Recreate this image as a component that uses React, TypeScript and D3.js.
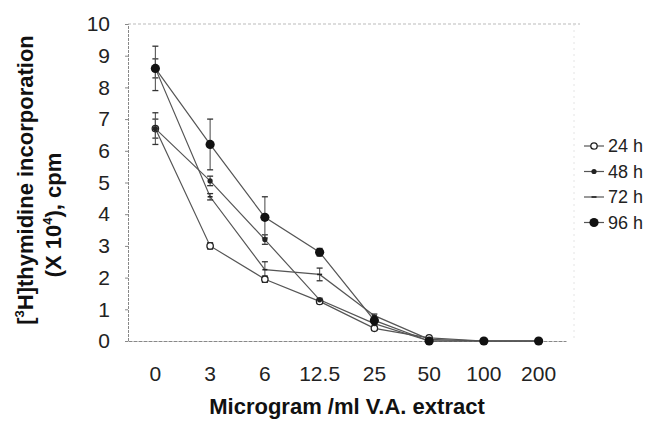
import React, { useEffect, useRef } from 'react'
import * as d3 from 'd3'

const categories = ['0', '3', '6', '12.5', '25', '50', '100', '200']
const seriesNames = ['24 h', '48 h', '72 h', '96 h']
const values24 = [6.7, 3.0, 1.95, 1.25, 0.4, 0.1, 0, 0]
const values48 = [6.7, 5.05, 3.2, 1.3, 0.55, 0, 0, 0]
const values72 = [8.6, 4.55, 2.25, 2.1, 0.8, 0.05, 0, 0]
const values96 = [8.6, 6.2, 3.9, 2.8, 0.65, 0, 0, 0]
const errors24 = [0.3, 0.1, 0.1, 0.05, 0.05, 0, 0, 0]
const errors48 = [0.5, 0.15, 0.15, 0.05, 0.05, 0, 0, 0]
const errors72 = [0.3, 0.1, 0.25, 0.2, 0.05, 0, 0, 0]
const errors96 = [0.7, 0.8, 0.65, 0.12, 0.05, 0, 0, 0]
const yTicks = [0, 1, 2, 3, 4, 5, 6, 7, 8, 9, 10]

const W = 646
const H = 426
const margin = { top: 24, right: 78, bottom: 85, left: 128 }

export default function App() {
  const svgRef = useRef<SVGSVGElement>(null)

  useEffect(() => {
    if (!svgRef.current) return
    const svg = d3.select(svgRef.current)
    svg.selectAll('*').remove()

    const innerW = W - margin.left - margin.right
    const innerH = H - margin.top - margin.bottom

    const x = d3.scaleBand().domain(categories).range([0, innerW - 2])
    const y = d3.scaleLinear().domain([0, 10]).range([innerH, 0])
    const cx = (c: string) => (x(c) || 0) + x.bandwidth() / 2

    const g = svg.append('g').attr('transform', `translate(${margin.left},${margin.top})`)
    const font = '"Liberation Sans", Arial, sans-serif'

    // frame (faint, dotted like the scan)
    g.append('line').attr('x1', 0).attr('x2', innerW + 12).attr('y1', 0).attr('y2', 0)
      .attr('stroke', '#aaa').attr('stroke-dasharray', '3,2').attr('stroke-width', 0.8)
    g.append('line').attr('x1', innerW + 6).attr('x2', innerW + 6).attr('y1', 0).attr('y2', innerH)
      .attr('stroke', '#ddd').attr('stroke-dasharray', '2,4').attr('stroke-width', 0.8)

    // y axis
    const yAxis = g.append('g').call(d3.axisLeft(y).tickValues(yTicks).tickSize(3).tickFormat(d3.format('d')))
    yAxis.select('.domain').attr('stroke', '#888').attr('stroke-dasharray', '3,1')
    yAxis.selectAll('.tick line').attr('stroke', '#888')
    yAxis.selectAll('.tick text').attr('x', -18).attr('font-size', 21).attr('font-family', font).attr('fill', '#222')

    // x axis
    const xAxis = g.append('g').attr('transform', `translate(0,${innerH})`)
      .call(d3.axisBottom(x).tickSize(0).tickSizeOuter(0))
    xAxis.select('.domain').attr('stroke', '#888').attr('stroke-dasharray', '4,1')
    xAxis.selectAll('.tick text').attr('dy', '1.75em').attr('font-size', 21).attr('font-family', font).attr('fill', '#222')

    const series = [
      { name: seriesNames[0], values: values24, errors: errors24, marker: 'open' },
      { name: seriesNames[1], values: values48, errors: errors48, marker: 'dot' },
      { name: seriesNames[2], values: values72, errors: errors72, marker: 'dash' },
      { name: seriesNames[3], values: values96, errors: errors96, marker: 'big' },
    ]

    const line = d3.line<number>()
      .x((_, i) => cx(categories[i]))
      .y(d => y(d))

    const drawMarker = (sel: any, kind: string, px: number, py: number) => {
      if (kind === 'open') {
        sel.append('circle').attr('cx', px).attr('cy', py).attr('r', 3.2)
          .attr('fill', '#fff').attr('stroke', '#222').attr('stroke-width', 1.3)
      } else if (kind === 'dot') {
        sel.append('circle').attr('cx', px).attr('cy', py).attr('r', 2.6).attr('fill', '#222')
      } else if (kind === 'dash') {
        sel.append('line').attr('x1', px - 2.5).attr('x2', px + 2.5).attr('y1', py).attr('y2', py)
          .attr('stroke', '#222').attr('stroke-width', 1.6)
      } else {
        sel.append('circle').attr('cx', px).attr('cy', py).attr('r', 4.6).attr('fill', '#111')
      }
    }

    series.forEach(s => {
      g.append('path').datum(s.values).attr('d', line)
        .attr('fill', 'none').attr('stroke', '#555').attr('stroke-width', 1.2)

      s.values.forEach((v, i) => {
        const e = s.errors[i]
        if (e > 0) {
          const px = cx(categories[i])
          g.append('line').attr('x1', px).attr('x2', px).attr('y1', y(v - e)).attr('y2', y(v + e))
            .attr('stroke', '#555').attr('stroke-width', 1.1)
          ;[v - e, v + e].forEach(t => {
            g.append('line').attr('x1', px - 3).attr('x2', px + 3).attr('y1', y(t)).attr('y2', y(t))
              .attr('stroke', '#333').attr('stroke-width', 1.3)
          })
        }
      })
    })

    series.forEach(s => {
      s.values.forEach((v, i) => drawMarker(g, s.marker, cx(categories[i]), y(v)))
    })

    // legend
    const legend = svg.append('g').attr('transform', 'translate(584,146)')
    series.forEach((s, i) => {
      const row = legend.append('g').attr('transform', `translate(0,${i * 25.5})`)
      row.append('line').attr('x1', 0).attr('x2', 20).attr('y1', 0).attr('y2', 0)
        .attr('stroke', '#555').attr('stroke-width', 1.2)
      drawMarker(row, s.marker, 10, 0)
      row.append('text').attr('x', 24).attr('y', 0).attr('dy', '0.36em')
        .attr('font-size', 18).attr('font-family', font).attr('fill', '#222').text(s.name)
    })

    // axis titles
    svg.append('text').attr('x', 347).attr('y', 414).attr('text-anchor', 'middle')
      .attr('font-size', 22).attr('font-weight', 'bold').attr('font-family', font).attr('fill', '#111')
      .text('Microgram /ml V.A. extract')

    const t1 = svg.append('text').attr('transform', 'translate(33,180) rotate(-90)').attr('text-anchor', 'middle')
      .attr('font-size', 22).attr('font-weight', 'bold').attr('font-family', font).attr('fill', '#111')
    t1.append('tspan').text('[')
    t1.append('tspan').attr('font-size', 13).attr('dy', -9).text('3')
    t1.append('tspan').attr('dy', 9).text('H]thymidine incorporation')

    const t2 = svg.append('text').attr('transform', 'translate(61,215) rotate(-90)').attr('text-anchor', 'middle')
      .attr('font-size', 22).attr('font-weight', 'bold').attr('font-family', font).attr('fill', '#111')
    t2.append('tspan').text('(X 10')
    t2.append('tspan').attr('font-size', 13).attr('dy', -9).text('4')
    t2.append('tspan').attr('dy', 9).text('), cpm')
  }, [])

  return (
    <svg ref={svgRef} width={W} height={H}
      style={{ position: 'absolute', left: 0, top: 0, background: '#fff' }} />
  )
}
